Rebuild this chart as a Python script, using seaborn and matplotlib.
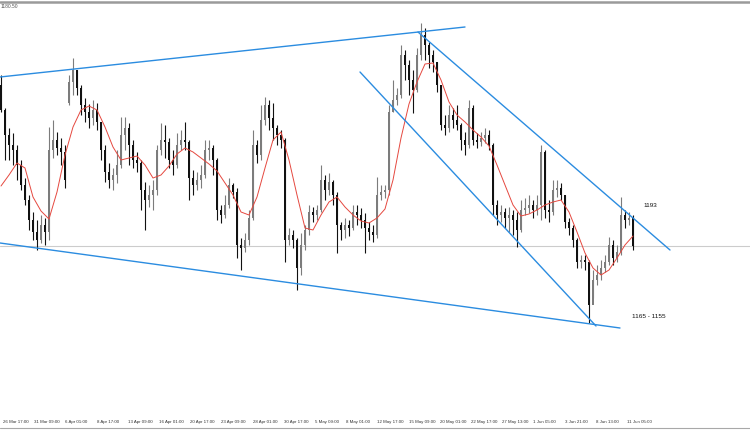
import numpy as np
import pandas as pd
import seaborn as sns
import matplotlib.pyplot as plt
import matplotlib.transforms as mtransforms
from matplotlib.lines import Line2D

# candles (2 x H4 bars each), prices
opens = [
    1220.75, 1214.5, 1208.25, 1205.75, 1204.5, 1200.75, 1195.75, 1192, 1187, 1184,
    1182, 1185.75, 1184, 1204.5, 1207, 1205, 1204, 1216.25, 1221.5, 1224.5,
    1220, 1215.75, 1214, 1212.5, 1214.5, 1211.5, 1204.5, 1199, 1197, 1198.25,
    1200.75, 1208.25, 1210, 1205.75, 1202, 1201.25, 1194.5, 1192, 1193.25, 1194.5,
    1204.5, 1207, 1206.5, 1202, 1200.75, 1205.75, 1207, 1206.5, 1197.5, 1195.75,
    1197, 1198.25, 1204.5, 1205, 1202, 1189.5, 1188.25, 1190.75, 1195.75, 1194,
    1180.75, 1180, 1182, 1187.5, 1205.75, 1203.25, 1212, 1215.75, 1212.5, 1210,
    1208.25, 1207, 1182, 1183.25, 1182, 1175, 1180.75, 1184.5, 1189, 1188.25,
    1189.5, 1197, 1194.5, 1196.5, 1193.25, 1185.75, 1184.5, 1185.75, 1185, 1189,
    1188.25, 1187, 1185, 1184, 1183.25, 1193.25, 1194, 1194.5, 1214, 1217,
    1218.25, 1228.25, 1225.75, 1222, 1219.5, 1228.25, 1233.25, 1230.75, 1228.25, 1226.5,
    1220.75, 1210.75, 1210, 1213.25, 1212, 1210.75, 1207, 1205.75, 1215, 1207,
    1206.5, 1207.5, 1208.25, 1205.75, 1190.75, 1188.25, 1189, 1187.5, 1188.25, 1187,
    1184.5, 1189.5, 1190, 1190.75, 1189.5, 1190.75, 1204, 1189.5, 1189, 1194.5,
    1195, 1193.25, 1186.5, 1185, 1182, 1176.5, 1177, 1176.5, 1165.75, 1172,
    1173.25, 1175, 1176.5, 1180.75, 1177.5, 1179, 1188.25, 1187, 1187.5,
]
highs = [
    1223.25, 1215, 1210, 1208.75, 1205.75, 1202, 1197.5, 1193.25, 1189, 1187,
    1188.25, 1187.5, 1210.25, 1212, 1209, 1207.5, 1205.75, 1223.25, 1227.5, 1224.5,
    1220.75, 1217.5, 1216, 1217, 1216.25, 1211.5, 1205.75, 1201.25, 1200, 1204.5,
    1212.75, 1212.75, 1211.25, 1207, 1204, 1202, 1196.5, 1195.75, 1197, 1205.75,
    1211.25, 1210.75, 1207.5, 1204.5, 1208.75, 1209.5, 1211.5, 1207, 1199.5, 1199,
    1200.75, 1207, 1207, 1205.75, 1202.5, 1190.75, 1193.25, 1197.5, 1196.25, 1195,
    1182.5, 1183.75, 1189.5, 1209.5, 1207, 1215.75, 1217.75, 1217, 1216.25, 1210.75,
    1209.5, 1207.5, 1185, 1184.5, 1182.5, 1183.75, 1185.75, 1190.75, 1190.25, 1190.75,
    1200.75, 1198.25, 1198.75, 1197, 1194, 1186.5, 1187.5, 1187, 1190.75, 1190.75,
    1190, 1188.75, 1186.5, 1185.75, 1197.75, 1195.75, 1195.75, 1215.75, 1222, 1220,
    1230.75, 1229.5, 1227, 1224.5, 1230, 1236.25, 1235, 1231.5, 1229.5, 1226.5,
    1220.75, 1213.25, 1215.75, 1215, 1215.75, 1211.25, 1209, 1217, 1215.75, 1208.75,
    1209, 1210, 1209.5, 1206.25, 1192, 1190.75, 1190, 1190.25, 1189.5, 1189,
    1192, 1192.5, 1193.25, 1192, 1193.25, 1205.75, 1204.5, 1192, 1197, 1197,
    1196.25, 1193.25, 1187.5, 1185.75, 1182.5, 1178.25, 1178.25, 1177, 1174.5, 1175.75,
    1177, 1178.25, 1182.75, 1182, 1180.75, 1192.75, 1189.5, 1189, 1188.25,
]
lows = [
    1214, 1202, 1202, 1200.75, 1197, 1194.5, 1190.75, 1184.5, 1182, 1179.5,
    1181.25, 1180.75, 1182, 1202.5, 1203.25, 1200.75, 1195, 1215.75, 1218.25, 1218.25,
    1213.25, 1211.5, 1210, 1210.75, 1209.5, 1202, 1196.5, 1195, 1194.5, 1196.25,
    1200, 1204.5, 1200.75, 1200, 1199, 1189.5, 1184.5, 1190.25, 1189.5, 1193.25,
    1203.25, 1202.5, 1200, 1198.25, 1200, 1204.5, 1204.5, 1192, 1193.25, 1194.5,
    1195, 1197.5, 1202, 1198.25, 1187, 1186.25, 1187.5, 1190, 1192.5, 1177.5,
    1174.5, 1179, 1180.75, 1187, 1201.25, 1202, 1210.75, 1209.5, 1207, 1205.75,
    1205, 1176.5, 1180.75, 1180, 1169.5, 1173.25, 1179.5, 1183.25, 1186.5, 1187,
    1189, 1192, 1193.25, 1190.75, 1178.75, 1182, 1182.5, 1183, 1184.5, 1185.75,
    1185, 1178.75, 1182, 1181.5, 1182.5, 1192, 1192.5, 1193.25, 1214, 1215.75,
    1217.5, 1222, 1218.25, 1213.75, 1219, 1227, 1227, 1225, 1224, 1219,
    1209.5, 1208.25, 1209, 1210, 1209.5, 1204.5, 1203.25, 1205, 1205.75, 1205,
    1205.5, 1206.25, 1204.5, 1188.25, 1185.75, 1186.5, 1185, 1184, 1183.25, 1180.25,
    1184, 1188.25, 1188.75, 1187.5, 1188.25, 1187, 1187.5, 1186.5, 1188.25, 1192.75,
    1192, 1185, 1183.25, 1180.25, 1175, 1175, 1174.5, 1161.25, 1167.5, 1170.75,
    1172, 1174, 1175.75, 1175.75, 1176.5, 1178.25, 1185, 1185.75, 1179.5,
]
closes = [
    1214.5, 1208.25, 1205.75, 1204.5, 1200.75, 1195.75, 1192, 1187, 1184, 1182,
    1185.75, 1184, 1204.5, 1207, 1205, 1204, 1197, 1221.5, 1224.5, 1220,
    1215.75, 1214, 1212.5, 1214.5, 1211.5, 1204.5, 1199, 1197, 1198.25, 1200.75,
    1208.25, 1210, 1205.75, 1202, 1201.25, 1194.5, 1192, 1193.25, 1194.5, 1204.5,
    1207, 1206.5, 1202, 1200.75, 1205.75, 1207, 1206.5, 1197.5, 1195.75, 1197,
    1198.25, 1204.5, 1205, 1202, 1189.5, 1188.25, 1190.75, 1195.75, 1194, 1180.75,
    1180, 1182, 1187.5, 1205.75, 1203.25, 1212, 1215.75, 1212.5, 1210, 1208.25,
    1207, 1182, 1183.25, 1182, 1175, 1180.75, 1184.5, 1189, 1188.25, 1189.5,
    1197, 1194.5, 1196.5, 1193.25, 1185.75, 1184.5, 1185.75, 1185, 1189, 1188.25,
    1187, 1185, 1184, 1183.25, 1193.25, 1194, 1194.5, 1214, 1217, 1218.25,
    1228.25, 1225.75, 1222, 1219.5, 1228.25, 1233.25, 1230.75, 1228.25, 1226.5, 1220.75,
    1210.75, 1210, 1213.25, 1212, 1210.75, 1207, 1205.75, 1215, 1207, 1206.5,
    1207.5, 1208.25, 1205.75, 1190.75, 1188.25, 1189, 1187.5, 1188.25, 1187, 1184.5,
    1189.5, 1190, 1190.75, 1189.5, 1190.75, 1204, 1189.5, 1189, 1194.5, 1195,
    1193.25, 1186.5, 1185, 1182, 1176.5, 1177, 1176.5, 1165.75, 1172, 1173.25,
    1175, 1176.5, 1180.75, 1177.5, 1179, 1188.25, 1187, 1187.5, 1180.5,
]

# red moving average, read at every second candle
ma_values = [
    1195.5, 1198.25, 1201.25, 1200, 1192.75, 1189.25, 1187.25, 1194, 1203.25, 1210.25,
    1214.5, 1215.5, 1214.5, 1210.25, 1205.25, 1202, 1202.5, 1203, 1200.75, 1197.5,
    1198.25, 1200.5, 1203.5, 1205, 1204, 1202.5, 1201, 1199.25, 1196.25, 1193.25,
    1189, 1188.25, 1192.75, 1200, 1207, 1209, 1202, 1193.25, 1185, 1184.5,
    1188.25, 1191.5, 1192.75, 1190.25, 1188.25, 1186.75, 1186.25, 1187.5, 1189.75, 1197,
    1207.5, 1216, 1221.5, 1226, 1226.25, 1222, 1216.5, 1213.25, 1211.5, 1209.5,
    1207.75, 1205.5, 1200.75, 1195.75, 1190.75, 1188, 1188.5, 1189.5, 1190.75, 1191.5,
    1192, 1189, 1184, 1178.75, 1175, 1173.25, 1174.5, 1177.5, 1180.75, 1183,
]

# hand drawn trend lines (candle index, price)
top_line_x = [-0.25, 116]
top_line_y = [1222.75, 1235.25]
bottom_line_x = [-0.25, 154.75]
bottom_line_y = [1181.25, 1160]
chan_top_x = [104.25, 167.25]
chan_top_y = [1234, 1179.5]
chan_bot_x = [89.75, 148.75]
chan_bot_y = [1224, 1160.5]

bid_price = 1180.5
time_labels = ['26 Mar 17:00', '31 Mar 09:00', '6 Apr 01:00', '8 Apr 17:00', '13 Apr 09:00',
               '16 Apr 01:00', '20 Apr 17:00', '23 Apr 09:00', '28 Apr 01:00', '30 Apr 17:00',
               '5 May 09:00', '8 May 01:00', '12 May 17:00', '15 May 09:00', '20 May 01:00',
               '22 May 17:00', '27 May 13:00', '1 Jun 05:00', '3 Jun 21:00', '8 Jun 13:00',
               '11 Jun 05:00']

sns.set_style('white')
plt.rcParams['font.family'] = ['Liberation Sans', 'DejaVu Sans']

fig = plt.figure(figsize=(7.5, 4.3), dpi=100)
ax = fig.add_axes([0, 11 / 430, 1, 416 / 430])

df = pd.DataFrame({'open': opens, 'high': highs, 'low': lows, 'close': closes})
df['idx'] = np.arange(len(df))
colors = np.where(df['close'] < df['open'], '#111111', '#7c7c7c')

ax.axhline(bid_price, color='#cccccc', lw=0.8, zorder=0)

# candles
ax.vlines(df['idx'], df['low'], df['high'], colors=colors, lw=0.8, zorder=2)
body_bottom = np.minimum(df['open'], df['close'])
body_h = np.maximum(np.abs(df['close'] - df['open']), 0.3)
ax.bar(df['idx'], body_h, bottom=body_bottom, width=0.62, color=colors, linewidth=0, zorder=2)

ma_df = pd.DataFrame({'idx': np.arange(0, len(closes), 2), 'ma': ma_values})
sns.lineplot(data=ma_df, x='idx', y='ma', color='#e5483f', lw=0.7, ax=ax, zorder=3)

for xs, ys in [(top_line_x, top_line_y), (bottom_line_x, bottom_line_y),
               (chan_top_x, chan_top_y), (chan_bot_x, chan_bot_y)]:
    ax.plot(xs, ys, color='#2b8ce0', lw=1.0, zorder=4)

ax.text(160.5, 1190.75, '1193', fontsize=4.6, color='#111', va='center', ha='left')
ax.text(157.75, 1163, '1165 - 1155', fontsize=4.6, color='#111', va='center', ha='left')

ax.set_xlim(-0.25, 187.25)
ax.set_ylim(1137.25, 1241.25)
ax.set_xlabel('')
ax.set_ylabel('')
ax.set_yticks([])
ax.set_xticks(np.arange(len(time_labels)) * 7.8)
ax.set_xticklabels(time_labels, fontsize=3.2, color='#333333', ha='left')
ax.tick_params(axis='x', direction='out', length=3.6, width=0.5, color='#777777', pad=-2.6)
offset = mtransforms.ScaledTranslation(2 / 100, 0, fig.dpi_scale_trans)
for lbl in ax.get_xticklabels():
    lbl.set_transform(lbl.get_transform() + offset)
for s in ax.spines.values():
    s.set_visible(False)

# window frame bits
fig.add_artist(Line2D([0, 1], [1 - 1.5 / 430, 1 - 1.5 / 430], color='#9a9a9a', lw=1.8))
fig.add_artist(Line2D([0, 1], [2 / 430, 2 / 430], color='#a8a8a8', lw=0.8))
fig.text(1 / 750, 1 - 6 / 430, '1180.50', fontsize=3.5, color='#555555', va='center', ha='left')

fig.savefig('out.png', dpi=100)
